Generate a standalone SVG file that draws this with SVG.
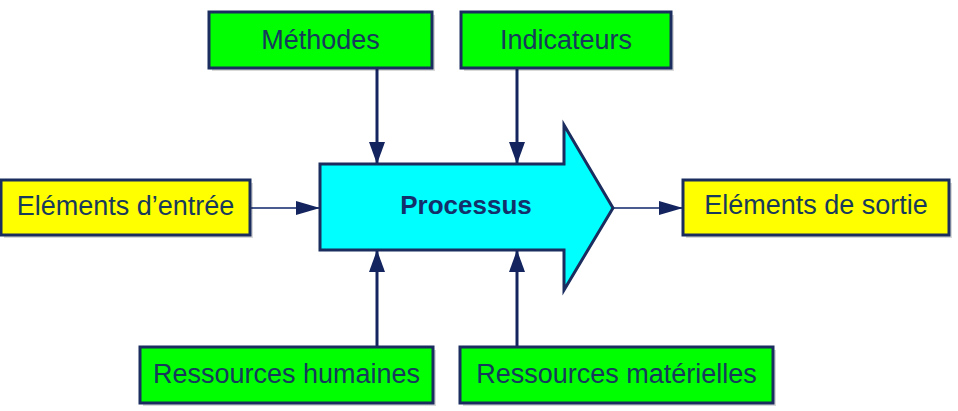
<svg xmlns="http://www.w3.org/2000/svg" width="958" height="411" viewBox="0 0 958 411">
  <style>
    .box { stroke: #1b2d5e; stroke-width: 3; }
    .green { fill: #00ff00; }
    .yellow { fill: #ffff00; }
    .shadow { fill: #000; opacity: 0.15; }
    .lbl { font-family: "Liberation Sans", Arial, sans-serif; font-size: 27px; fill: #173a5c; text-anchor: middle; }
    .bold { font-weight: bold; font-size: 26px; fill: #13306a; }
    .v { stroke: #13245f; stroke-width: 3; fill: none; }
    .h { stroke: #4a5c8e; stroke-width: 2; fill: none; }
  </style>
  <defs>
    <marker id="ah" markerUnits="userSpaceOnUse" markerWidth="22" markerHeight="16" refX="22" refY="8" orient="auto">
      <path d="M0,0 L22,8 L0,16 Z" fill="#13245f"/>
    </marker>
    <marker id="ahh" markerUnits="userSpaceOnUse" markerWidth="24" markerHeight="14" refX="24" refY="7" orient="auto">
      <path d="M0,0 L24,7 L0,14 Z" fill="#13245f"/>
    </marker>
  </defs>
  <rect width="958" height="411" fill="#ffffff"/>

  <g id="connectors">
    <line class="v" x1="377" y1="68" x2="377" y2="164" marker-end="url(#ah)"/>
    <line class="v" x1="517" y1="68" x2="517" y2="164" marker-end="url(#ah)"/>
    <line class="v" x1="377" y1="347" x2="377" y2="250" marker-end="url(#ah)"/>
    <line class="v" x1="517" y1="347" x2="517" y2="250" marker-end="url(#ah)"/>
    <line class="h" x1="250" y1="208" x2="320" y2="208" marker-end="url(#ahh)"/>
    <line class="h" x1="613" y1="208" x2="683" y2="208" marker-end="url(#ahh)"/>
  </g>

  <g id="processus">
    <path d="M320,164 L564,164 L564,125 L613,208 L564,290 L564,250 L320,250 Z" fill="#00ffff" stroke="#1b2d5e" stroke-width="3" stroke-linejoin="miter"/>
    <text class="lbl bold" x="466" y="214">Processus</text>
  </g>

  <g id="methodes">
    <rect class="shadow" x="212" y="15" width="223" height="56"/>
    <rect class="box green" x="209" y="12" width="223" height="56"/>
    <text class="lbl" x="320.5" y="49">Méthodes</text>
  </g>

  <g id="indicateurs">
    <rect class="shadow" x="464" y="15" width="210" height="56"/>
    <rect class="box green" x="461" y="12" width="210" height="56"/>
    <text class="lbl" x="566" y="49">Indicateurs</text>
  </g>

  <g id="elements-entree">
    <rect class="shadow" x="4" y="183" width="249" height="55"/>
    <rect class="box yellow" x="1" y="180" width="249" height="55"/>
    <text class="lbl" x="125.5" y="215">Eléments d’entrée</text>
  </g>

  <g id="elements-sortie">
    <rect class="shadow" x="686" y="183" width="266" height="55"/>
    <rect class="box yellow" x="683" y="180" width="266" height="55"/>
    <text class="lbl" x="816" y="214">Eléments de sortie</text>
  </g>

  <g id="ressources-humaines">
    <rect class="shadow" x="143" y="350" width="293" height="56"/>
    <rect class="box green" x="140" y="347" width="293" height="56"/>
    <text class="lbl" x="286.5" y="383">Ressources humaines</text>
  </g>

  <g id="ressources-materielles">
    <rect class="shadow" x="463" y="350" width="313" height="56"/>
    <rect class="box green" x="460" y="347" width="313" height="56"/>
    <text class="lbl" x="616.5" y="383">Ressources matérielles</text>
  </g>
</svg>
